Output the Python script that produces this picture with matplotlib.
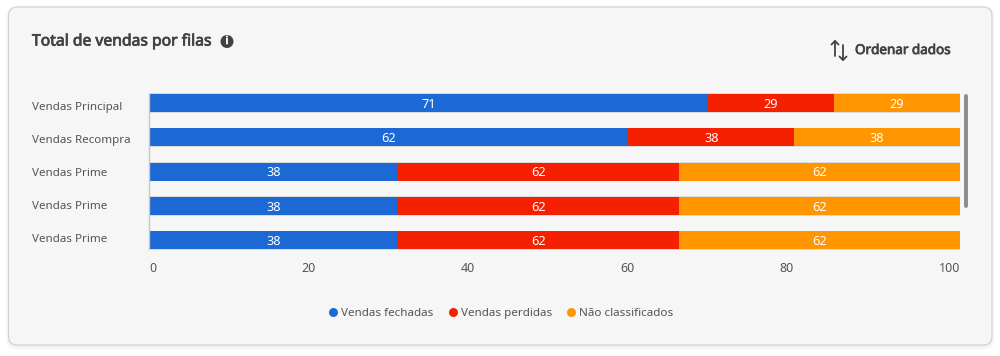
import numpy as np
import matplotlib
matplotlib.use('Agg')
import matplotlib.pyplot as plt
import matplotlib.patheffects as pe
from matplotlib.patches import FancyBboxPatch, Circle

plt.rcParams['font.family'] = ['Noto Sans', 'DejaVu Sans']

# data
filas = ['Vendas Principal', 'Vendas Recompra', 'Vendas Prime', 'Vendas Prime', 'Vendas Prime']
series_names = ['Vendas fechadas', 'Vendas perdidas', 'Não classificados']
colors = ['#1c68d4', '#f42000', '#ff9500']

# bar lengths as drawn, the printed numbers are not the same thing
fechadas = [68.9, 59.1, 30.7, 30.7, 30.7]
perdidas = [15.55, 20.45, 34.65, 34.65, 34.65]
nao_class = [15.55, 20.45, 34.65, 34.65, 34.65]

label_fechadas = [71, 62, 38, 38, 38]
label_perdidas = [29, 38, 62, 62, 62]
label_nao_class = [29, 38, 62, 62, 62]

x_tick_labels = ['0', '20', '40', '60', '80', '100']

W, H = 1000, 356
text_color = '#555555'
title_color = '#424242'

fig = plt.figure(figsize=(W / 100, H / 100), dpi=100, facecolor='white')

# card behind everything, in pixel coordinates
bg = fig.add_axes([0, 0, 1, 1])
bg.set_xlim(0, W)
bg.set_ylim(H, 0)
bg.axis('off')

for grow, alpha in [(3, 0.012), (2, 0.018), (1, 0.025)]:
    bg.add_patch(FancyBboxPatch((8.5 - grow, 7 - grow + 2), 983.5 + 2 * grow, 338 + 2 * grow,
                                boxstyle='round,pad=0,rounding_size=10', fc='black', ec='none', alpha=alpha))
bg.add_patch(FancyBboxPatch((8.5, 7), 983.5, 338, boxstyle='round,pad=0,rounding_size=9',
                            fc='#f6f6f6', ec='#d0d0d0', lw=0.8))

# bold weight of this family is not picked up, so thicken with a stroke
bold = [pe.withStroke(linewidth=0.55, foreground=title_color)]
bg.text(32, 41.5, 'Total de vendas por filas', fontsize=11.3, color=title_color,
        va='center', ha='left', path_effects=bold)
bg.add_patch(Circle((227, 41.5), 6.5, fc=title_color, ec='none'))
bg.text(227, 41.5, 'i', fontsize=8, color='white', ha='center', va='center',
        path_effects=[pe.withStroke(linewidth=0.5, foreground='white')])

bg.text(855, 50.5, 'Ordenar dados', fontsize=9.7, color=title_color, va='center', ha='left', path_effects=bold)
icon = dict(color=title_color, lw=1.3, solid_capstyle='round', solid_joinstyle='round')
bg.plot([835, 835], [41, 56], **icon)
bg.plot([831.5, 835, 838.5], [44.5, 41, 44.5], **icon)
bg.plot([843, 843], [45, 60], **icon)
bg.plot([839.5, 843, 846.5], [56.5, 60, 56.5], **icon)

# scrollbar
bg.plot([966, 966], [95.5, 205.5], color='#8c8c8c', lw=2.8, solid_capstyle='round')

# legend
for name, c, dot_x in zip(series_names, colors, [332.5, 452.5, 570.5]):
    bg.scatter([dot_x], [312], s=42, color=c, linewidths=0)
    bg.text(dot_x + 8.5, 316, name, fontsize=8.4, color=text_color, ha='left', va='baseline')

# chart
step = 34.3
top = 103 - step / 2
ax = fig.add_axes([149 / W, 1 - (top + 5 * step) / H, 811 / W, 5 * step / H])
ax.patch.set_alpha(0)

y = np.arange(len(filas))
h = 18 / step
ax.barh(y, 100, height=h + 0.04, color='#dcdcdc')

left = np.zeros(len(filas))
for vals, labs, c in zip([fechadas, perdidas, nao_class],
                         [label_fechadas, label_perdidas, label_nao_class], colors):
    bars = ax.barh(y, vals, left=left, height=h, color=c, edgecolor='none')
    for t in ax.bar_label(bars, labels=[str(v) for v in labs], label_type='center', color='white', fontsize=9.2):
        t.xyann = (0, -0.8)
    left = left + np.array(vals)

ax.set_xlim(0, 100)
ax.set_ylim(len(filas) - 0.5, -0.5)

# x labels are spread edge to edge with equal gaps, not on the bar scale
label_w = np.array([len(t) * 7.0 for t in x_tick_labels])
gap = (811 - label_w.sum()) / (len(label_w) - 1)
centers = np.cumsum(label_w + gap) - gap - label_w / 2
ax.set_xticks(centers / 8.11)
ax.set_xticklabels(x_tick_labels)
ax.tick_params(axis='x', length=0, pad=3, labelsize=9, labelcolor=text_color)

ax.set_yticks(np.linspace(0.09, 3.93, len(filas)))
ax.set_yticklabels(filas, ha='left')
ax.tick_params(axis='y', length=0, pad=84.2, labelsize=8.35, labelcolor=text_color)

for s in ['top', 'right', 'bottom']:
    ax.spines[s].set_visible(False)
ax.spines['left'].set_color('#c8c8c8')
ax.spines['left'].set_linewidth(1)
ax.spines['left'].set_bounds(-h / 2, len(filas) - 1 + h / 2)

fig.savefig('out.png', dpi=100)
